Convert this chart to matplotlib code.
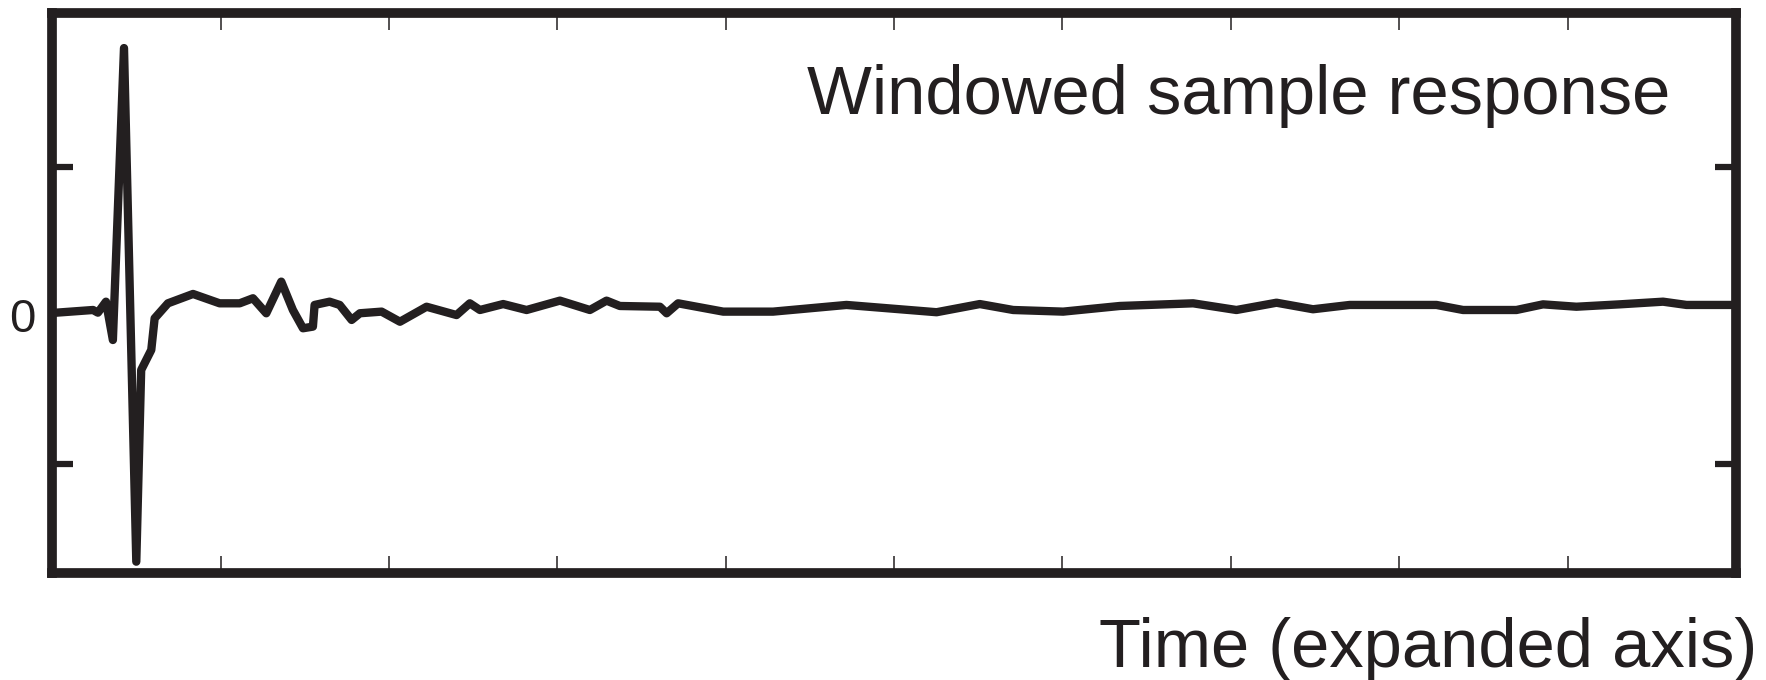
import matplotlib
matplotlib.use('Agg')
import matplotlib.pyplot as plt

# traced waveform (time in tick units, amplitude in tick units)
time_pts = [0.0, 0.242, 0.271, 0.319, 0.360, 0.426, 0.499, 0.528, 0.588, 0.608,
            0.687, 0.836, 0.994, 1.113, 1.192, 1.271, 1.360, 1.429, 1.489, 1.548,
            1.558, 1.647, 1.707, 1.778, 1.827, 1.956, 2.065, 2.223, 2.401, 2.480,
            2.540, 2.678, 2.817, 3.015, 3.193, 3.292, 3.371, 3.609, 3.649, 3.717,
            3.985, 4.281, 4.717, 5.252, 5.509, 5.707, 6.004, 6.340, 6.776, 7.033,
            7.271, 7.488, 7.706, 8.221, 8.379, 8.696, 8.854, 9.052, 9.309, 9.567,
            9.706, 10.0]
response = [0.017, 0.037, 0.019, 0.093, -0.165, 1.801, -1.658, -0.367, -0.232, -0.019,
            0.082, 0.145, 0.082, 0.082, 0.116, 0.015, 0.228, 0.037, -0.086, -0.075,
            0.071, 0.093, 0.071, -0.030, 0.015, 0.026, -0.042, 0.059, 0.003, 0.082,
            0.037, 0.077, 0.037, 0.100, 0.037, 0.100, 0.064, 0.059, 0.015, 0.082,
            0.026, 0.026, 0.071, 0.022, 0.077, 0.037, 0.026, 0.064, 0.082, 0.037,
            0.086, 0.042, 0.071, 0.071, 0.037, 0.037, 0.075, 0.059, 0.075, 0.093,
            0.071, 0.071]

x_ticks = [1, 2, 3, 4, 5, 6, 7, 8, 9]
y_ticks = [-1, 0, 1]
y_labels = ['', '0', '']

ink = '#231f20'
plt.rcParams['font.family'] = ['Liberation Sans', 'DejaVu Sans']

fig = plt.figure(figsize=(17.66, 6.8), dpi=100)
ax = fig.add_axes([0.0296, 0.1574, 0.9534, 0.8228])

ax.plot(time_pts, response, color=ink, linewidth=6,
        solid_joinstyle='round', solid_capstyle='round')

ax.set_xlim(0, 10)
ax.set_ylim(-1.734, 2.034)

for side in ax.spines.values():
    side.set_linewidth(7)
    side.set_color(ink)

ax.set_xticks(x_ticks)
ax.set_xticklabels([])
ax.tick_params(axis='x', direction='in', top=True, bottom=True,
               length=12, width=1.1, color=ink)

ax.set_yticks(y_ticks)
ax.set_yticklabels(y_labels)
ax.tick_params(axis='y', direction='in', left=True, right=True,
               length=15, width=4.5, color=ink, labelsize=34,
               labelcolor=ink, pad=12)
# no visible tick mark at zero, only its label
zero_tick = ax.yaxis.get_major_ticks()[1]
zero_tick.tick1line.set_visible(False)
zero_tick.tick2line.set_visible(False)

ax.text(0.961, 0.820, 'Windowed sample response', transform=ax.transAxes,
        ha='right', va='baseline', fontsize=49.5, color=ink)
fig.text(0.995, 0.0196, 'Time (expanded axis)', ha='right', va='baseline',
         fontsize=49.5, color=ink)

fig.savefig('out.png', dpi=100)
